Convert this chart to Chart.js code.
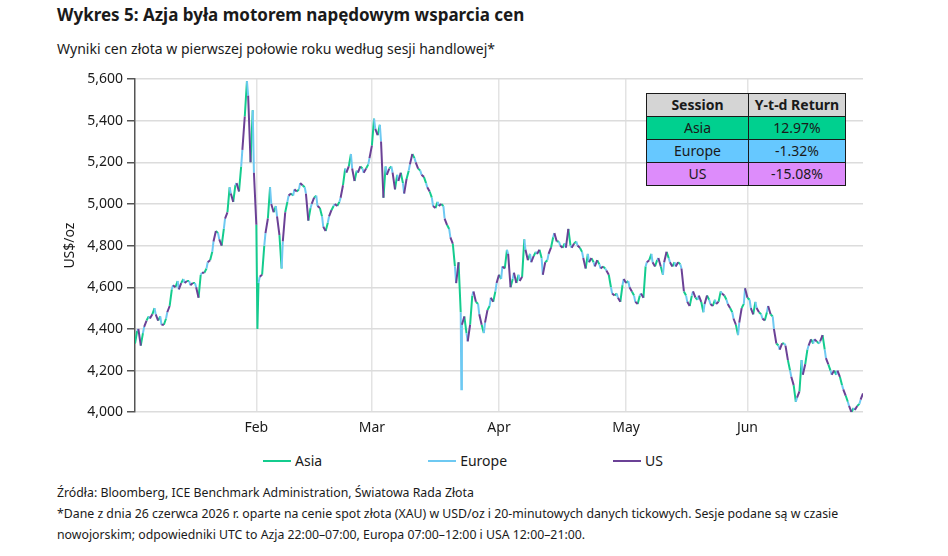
<!DOCTYPE html>
<html>
<head>
<meta charset="UTF-8">
<title>Wykres 5: Azja była motorem napędowym wsparcia cen</title>
<script src="https://cdn.jsdelivr.net/npm/chart.js"></script>
<style>
    body { margin: 0; background: #fff; font-family: 'Noto Sans', 'Open Sans', sans-serif; color: #1a1a1a; }
    #wrap { position: relative; width: 948px; height: 556px; overflow: hidden; }
    h1 { position: absolute; left: 57px; top: 3px; margin: 0; font-size: 17px; font-weight: bold; }
    .sub { position: absolute; left: 57px; top: 39px; font-size: 14px; }
    #chartBox { position: absolute; left: 60px; top: 66px; width: 813px; height: 377px; }
    #returns { position: absolute; left: 646px; top: 93px; border-collapse: collapse; font-size: 14px; }
    #returns td, #returns th { border: 1.5px solid #1a1a1a; padding: 0; text-align: center; height: 22px; line-height: 20px; }
    #returns th { background: #d5d5d5; font-weight: bold; }
    #legend { position: absolute; left: 263px; top: 451px; display: flex; gap: 106px; font-size: 14px; }
    #legend span.item { display: flex; align-items: center; }
    #legend i { display: inline-block; width: 28px; height: 2px; margin-right: 4px; }
    .notes { position: absolute; left: 57px; top: 482px; font-size: 12.3px; line-height: 21px; }
</style>
</head>
<body>
<div id="wrap">
    <h1>Wykres 5: Azja była motorem napędowym wsparcia cen</h1>
    <div class="sub">Wyniki cen złota w pierwszej połowie roku według sesji handlowej*</div>
    <div id="chartBox"><canvas id="goldChart"></canvas></div>
    <table id="returns"></table>
    <div id="legend"></div>
    <div class="notes">
        Źródła: Bloomberg, ICE Benchmark Administration, Światowa Rada Złota<br>
        *Dane z dnia 26 czerwca 2026 r. oparte na cenie spot złota (XAU) w USD/oz i 20-minutowych danych tickowych. Sesje podane są w czasie<br>
        nowojorskim; odpowiedniki UTC to Azja 22:00–07:00, Europa 07:00–12:00 i USA 12:00–21:00.
    </div>
</div>

<script>
    // trading days Jan 2 .. Jun 26 (weekends left out), one slot per day
    var tradingDays = 126;
    var monthTicks = [21, 41, 63, 85, 106];
    var monthLabels = ['Feb', 'Mar', 'Apr', 'May', 'Jun'];
    var yTicks = [4000, 4200, 4400, 4600, 4800, 5000, 5200, 5400, 5600];

    var sessionNames = ['Asia', 'Europe', 'US'];
    var sessionColors = ['#14cc8e', '#6ec9f2', '#6b4196'];
    var tableFills = ['#00d08f', '#66c8ff', '#dd8cfb'];
    var ytdReturns = ['12.97%', '-1.32%', '-15.08%'];

    var firstOpen = 4330;

    // price at the end of each session, per trading day
    var asiaClose = [
        4390, 4380, 4460, 4500, 4460, 4450, 4590, 4630, 4640, 4630,
        4620, 4660, 4690, 4770, 4860, 4880, 5080, 5090, 5180, 5590,
        5450, 4620, 4800, 5080, 4990, 4690, 5010, 5040, 5070, 5080,
        4980, 5040, 4940, 4910, 4990, 5010, 5170, 5240, 5160, 5170,
        5190, 5410, 5380, 5180, 5180, 5140, 5100, 5160, 5220, 5160,
        5100, 5030, 5010, 4990, 4880, 4700, 4480, 4380, 4560, 4520,
        4380, 4510, 4580, 4640, 4780, 4640, 4660, 4830, 4760, 4770,
        4740, 4730, 4840, 4820, 4810, 4800, 4820, 4770, 4760, 4720,
        4710, 4690, 4600, 4570, 4610, 4630, 4560, 4560, 4700, 4760,
        4730, 4660, 4740, 4720, 4710, 4560, 4560, 4540, 4480, 4540,
        4540, 4580, 4540, 4480, 4370, 4520, 4540, 4530, 4470, 4480,
        4460, 4320, 4330, 4200, 4050, 4250, 4300, 4330, 4330, 4300,
        4200, 4180, 4130, 4050, 4020, 4040
    ];
    var europeClose = [
        4400, 4410, 4450, 4470, 4420, 4480, 4610, 4590, 4620, 4610,
        4600, 4670, 4720, 4820, 4830, 4930, 5050, 5100, 5260, 5520,
        5150, 4650, 4860, 5000, 4940, 4820, 5040, 5070, 5100, 5050,
        5000, 4990, 4890, 4940, 5000, 5030, 5150, 5170, 5150, 5150,
        5220, 5360, 5300, 5140, 5150, 5110, 5050, 5190, 5200, 5140,
        5080, 4990, 4990, 4930, 4840, 4620, 4420, 4340, 4580, 4470,
        4430, 4550, 4620, 4700, 4760, 4670, 4630, 4780, 4720, 4760,
        4660, 4760, 4860, 4800, 4790, 4790, 4800, 4740, 4720, 4700,
        4690, 4680, 4570, 4550, 4640, 4600, 4530, 4570, 4720, 4720,
        4740, 4720, 4720, 4700, 4690, 4530, 4580, 4560, 4520, 4520,
        4520, 4570, 4520, 4450, 4430, 4595, 4500, 4500, 4450, 4510,
        4400, 4300, 4320, 4170, 4070, 4180, 4320, 4350, 4340, 4260,
        4180, 4200, 4110, 4030, 4010, 4060
    ];
    var usClose = [
        4320, 4440, 4470, 4440, 4420, 4510, 4600, 4620, 4630, 4620,
        4550, 4670, 4730, 4870, 4800, 4960, 5010, 5060, 5420, 5200,
        4900, 4660, 4930, 4960, 4850, 4960, 5050, 5060, 5090, 4920,
        5030, 4980, 4870, 4970, 4990, 5090, 5180, 5110, 5180, 5170,
        5280, 5330, 5030, 5170, 5070, 5150, 5120, 5240, 5170, 5130,
        5060, 4980, 5000, 4900, 4810, 4720, 4460, 4420, 4530, 4420,
        4490, 4530, 4660, 4690, 4600, 4620, 4650, 4730, 4750, 4780,
        4720, 4790, 4820, 4790, 4880, 4810, 4790, 4690, 4740, 4730,
        4700, 4660, 4560, 4530, 4620, 4580, 4520, 4550, 4730, 4700,
        4700, 4770, 4700, 4720, 4580, 4510, 4550, 4530, 4560, 4510,
        4530, 4560, 4500, 4420, 4500, 4550, 4470, 4480, 4440, 4470,
        4330, 4330, 4250, 4130, 4100, 4230, 4350, 4340, 4370, 4230,
        4200, 4170, 4080, 4000, 4030, 4090
    ];

    // intra-session extremes that the closes alone miss
    var spikeDays = [21, 56];
    var spikeSessions = ['Asia', 'Europe'];
    var spikePrices = [4400, 4110];

    // hours of a 24h trading day given to each session
    var sessionHours = { Asia: [0, 9], Europe: [9, 14], US: [14, 24] };

    function buildSession(name, opens, closes) {
        var pts = [];
        for (var i = 0; i < tradingDays; i++) {
            var x0 = i + sessionHours[name][0] / 24;
            var x1 = i + sessionHours[name][1] / 24;
            pts.push({ x: x0, y: opens[i] });
            for (var k = 0; k < spikeDays.length; k++) {
                if (spikeDays[k] === i && spikeSessions[k] === name) {
                    pts.push({ x: (x0 + x1) / 2, y: spikePrices[k] });
                }
            }
            pts.push({ x: x1, y: closes[i] });
            pts.push({ x: x1, y: null });
        }
        return pts;
    }

    var asiaOpen = [firstOpen].concat(usClose.slice(0, tradingDays - 1));
    var sessionData = [
        buildSession('Asia', asiaOpen, asiaClose),
        buildSession('Europe', asiaClose, europeClose),
        buildSession('US', europeClose, usClose)
    ];

    // table
    var table = document.getElementById('returns');
    var html = '<tr><th style="width:101px">Session</th><th style="width:96px">Y-t-d Return</th></tr>';
    for (var r = 0; r < sessionNames.length; r++) {
        html += '<tr style="background:' + tableFills[r] + '"><td>' + sessionNames[r] + '</td><td>' + ytdReturns[r] + '</td></tr>';
    }
    table.innerHTML = html;

    Chart.defaults.font.family = "'Noto Sans', 'Open Sans', sans-serif";
    Chart.defaults.color = '#1a1a1a';

    var ctx = document.getElementById('goldChart').getContext('2d');
    var goldChart = new Chart(ctx, {
        type: 'line',
        data: {
            datasets: sessionNames.map(function (name, i) {
                return {
                    label: name,
                    data: sessionData[i],
                    borderColor: sessionColors[i],
                    backgroundColor: sessionColors[i],
                    borderWidth: 2,
                    pointRadius: 0,
                    tension: 0,
                    spanGaps: false,
                    order: sessionNames.length - i   // US drawn on top
                };
            })
        },
        options: {
            responsive: true,
            maintainAspectRatio: false,
            animation: false,
            layout: { padding: { top: 13, right: 10, left: 0, bottom: 0 } },
            plugins: {
                legend: { display: false },
                tooltip: { enabled: false }
            },
            scales: {
                x: {
                    type: 'linear',
                    min: 0,
                    max: tradingDays,
                    afterBuildTicks: function (scale) {
                        scale.ticks = monthTicks.map(function (v) { return { value: v }; });
                    },
                    ticks: {
                        autoSkip: false,
                        maxRotation: 0,
                        padding: 7,
                        font: { size: 14 },
                        callback: function (value) {
                            var idx = monthTicks.indexOf(value);
                            return idx >= 0 ? monthLabels[idx] : '';
                        }
                    },
                    grid: { color: '#e3e3e3', lineWidth: 1.5, drawTicks: false },
                    border: { display: false }
                },
                y: {
                    min: 4000,
                    max: 5600,
                    afterBuildTicks: function (scale) {
                        scale.ticks = yTicks.map(function (v) { return { value: v }; });
                    },
                    afterFit: function (scale) { scale.width = 75; },
                    title: { display: true, text: 'US$/oz', font: { size: 14 }, padding: { top: 2, bottom: 0 } },
                    ticks: {
                        padding: 4,
                        font: { size: 14 },
                        callback: function (value) { return value.toLocaleString('en-US'); }
                    },
                    grid: { color: '#dcdcdc', lineWidth: 1.5, tickLength: 8, tickColor: '#555' },
                    border: { color: '#555', width: 1.5 }
                }
            }
        }
    });

    // legend built from the datasets
    var legend = document.getElementById('legend');
    goldChart.data.datasets.forEach(function (ds) {
        var item = document.createElement('span');
        item.className = 'item';
        item.innerHTML = '<i style="background:' + ds.borderColor + '"></i>' + ds.label;
        legend.appendChild(item);
    });
</script>
</body>
</html>
